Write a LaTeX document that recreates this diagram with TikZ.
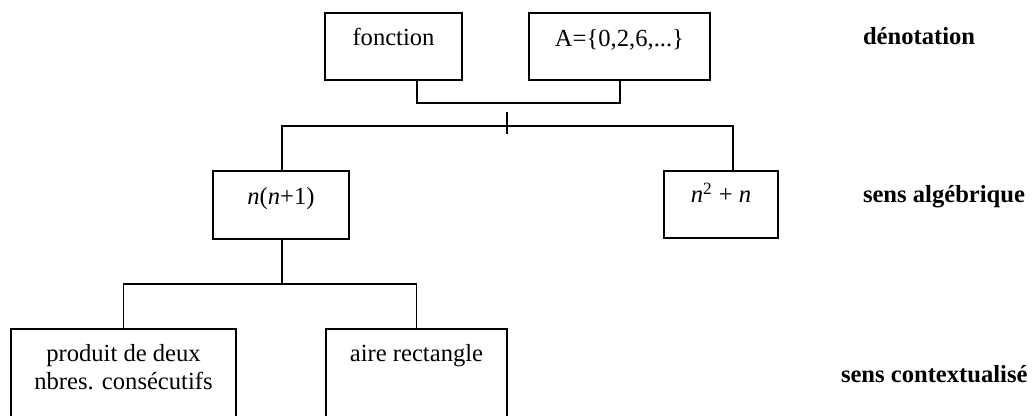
\documentclass[tikz,border=0pt]{standalone}
\usepackage{fontspec}
\setmainfont{Liberation Serif}
\usetikzlibrary{calc}
\tikzset{
  box/.style={draw, line width=0.9pt, inner sep=0pt, outer sep=0pt, rectangle},
  txt/.style={inner sep=0pt, outer sep=0pt, anchor=base, font=\fontsize{12.3pt}{14pt}\selectfont},
  lvl/.style={inner sep=0pt, outer sep=0pt, anchor=base west, font=\fontsize{12.3pt}{14pt}\selectfont\bfseries},
  conn/.style={line width=0.9pt}
}
\begin{document}
\begin{tikzpicture}[x=0.5pt,y=-0.5pt]
\useasboundingbox (0,0) rectangle (1034,416);
\begin{scope}
\clip (0,0) rectangle (1034,416);
% boxes
\node[box, minimum width=68.5pt, minimum height=33.5pt] (f) at (393.5,46.5) {};
\node[box, minimum width=90.5pt, minimum height=33.5pt] (A) at (619.5,46.5) {};
\node[box, minimum width=68pt, minimum height=34pt] (nn) at (281,205) {};
\node[box, minimum width=57pt, minimum height=33.5pt] (n2) at (721,204.5) {};
\node[box, minimum width=112.5pt, minimum height=55.5pt] (p) at (123.5,384.5) {};
\node[box, minimum width=90.5pt, minimum height=55.5pt] (a) at (416.5,384.5) {};
% texts
\node[txt] (ft) at (393.5,46) {fonction};
\node[txt] (At) at (619.5,47) {A=\{0,2,6,...\}};
\node[txt] (nnt) at (281,205) {\textit{n}(\textit{n}+1)};
\node[txt] (n2t) at (721,203) {\textit{n}\textsuperscript{2} + \textit{n}};
\node[txt] (p1) at (123.5,362) {produit de deux};
\node[txt] (p2) at (123.5,390) {nbres. consécutifs};
\node[txt] (at) at (416.5,362) {aire rectangle};
% level labels
\node[lvl] (l1) at (863,45) {dénotation};
\node[lvl] (l2) at (863,203) {sens algébrique};
\node[lvl] (l3) at (841,383) {sens contextualisé};
% connectors
\coordinate (jl) at (417,103);
\coordinate (jr) at (620,103);
\coordinate (t) at (507,126);
\coordinate (vr) at (733,126);
\coordinate (hb) at (282,284);
\draw[conn] (f.south -| jl) -- (jl) -- (jr) -- (A.south -| jr);
\draw[conn] ($(t)+(0,-14)$) -- ($(t)+(0,8)$);
\draw[conn] (nn.north -| hb) |- (t) -- (vr) -- (n2.north -| vr);
\draw[conn] (nn.south -| hb) -- (hb);
\draw[conn] (p.north) |- (hb) -| (a.north);
\end{scope}
\end{tikzpicture}
\end{document}
